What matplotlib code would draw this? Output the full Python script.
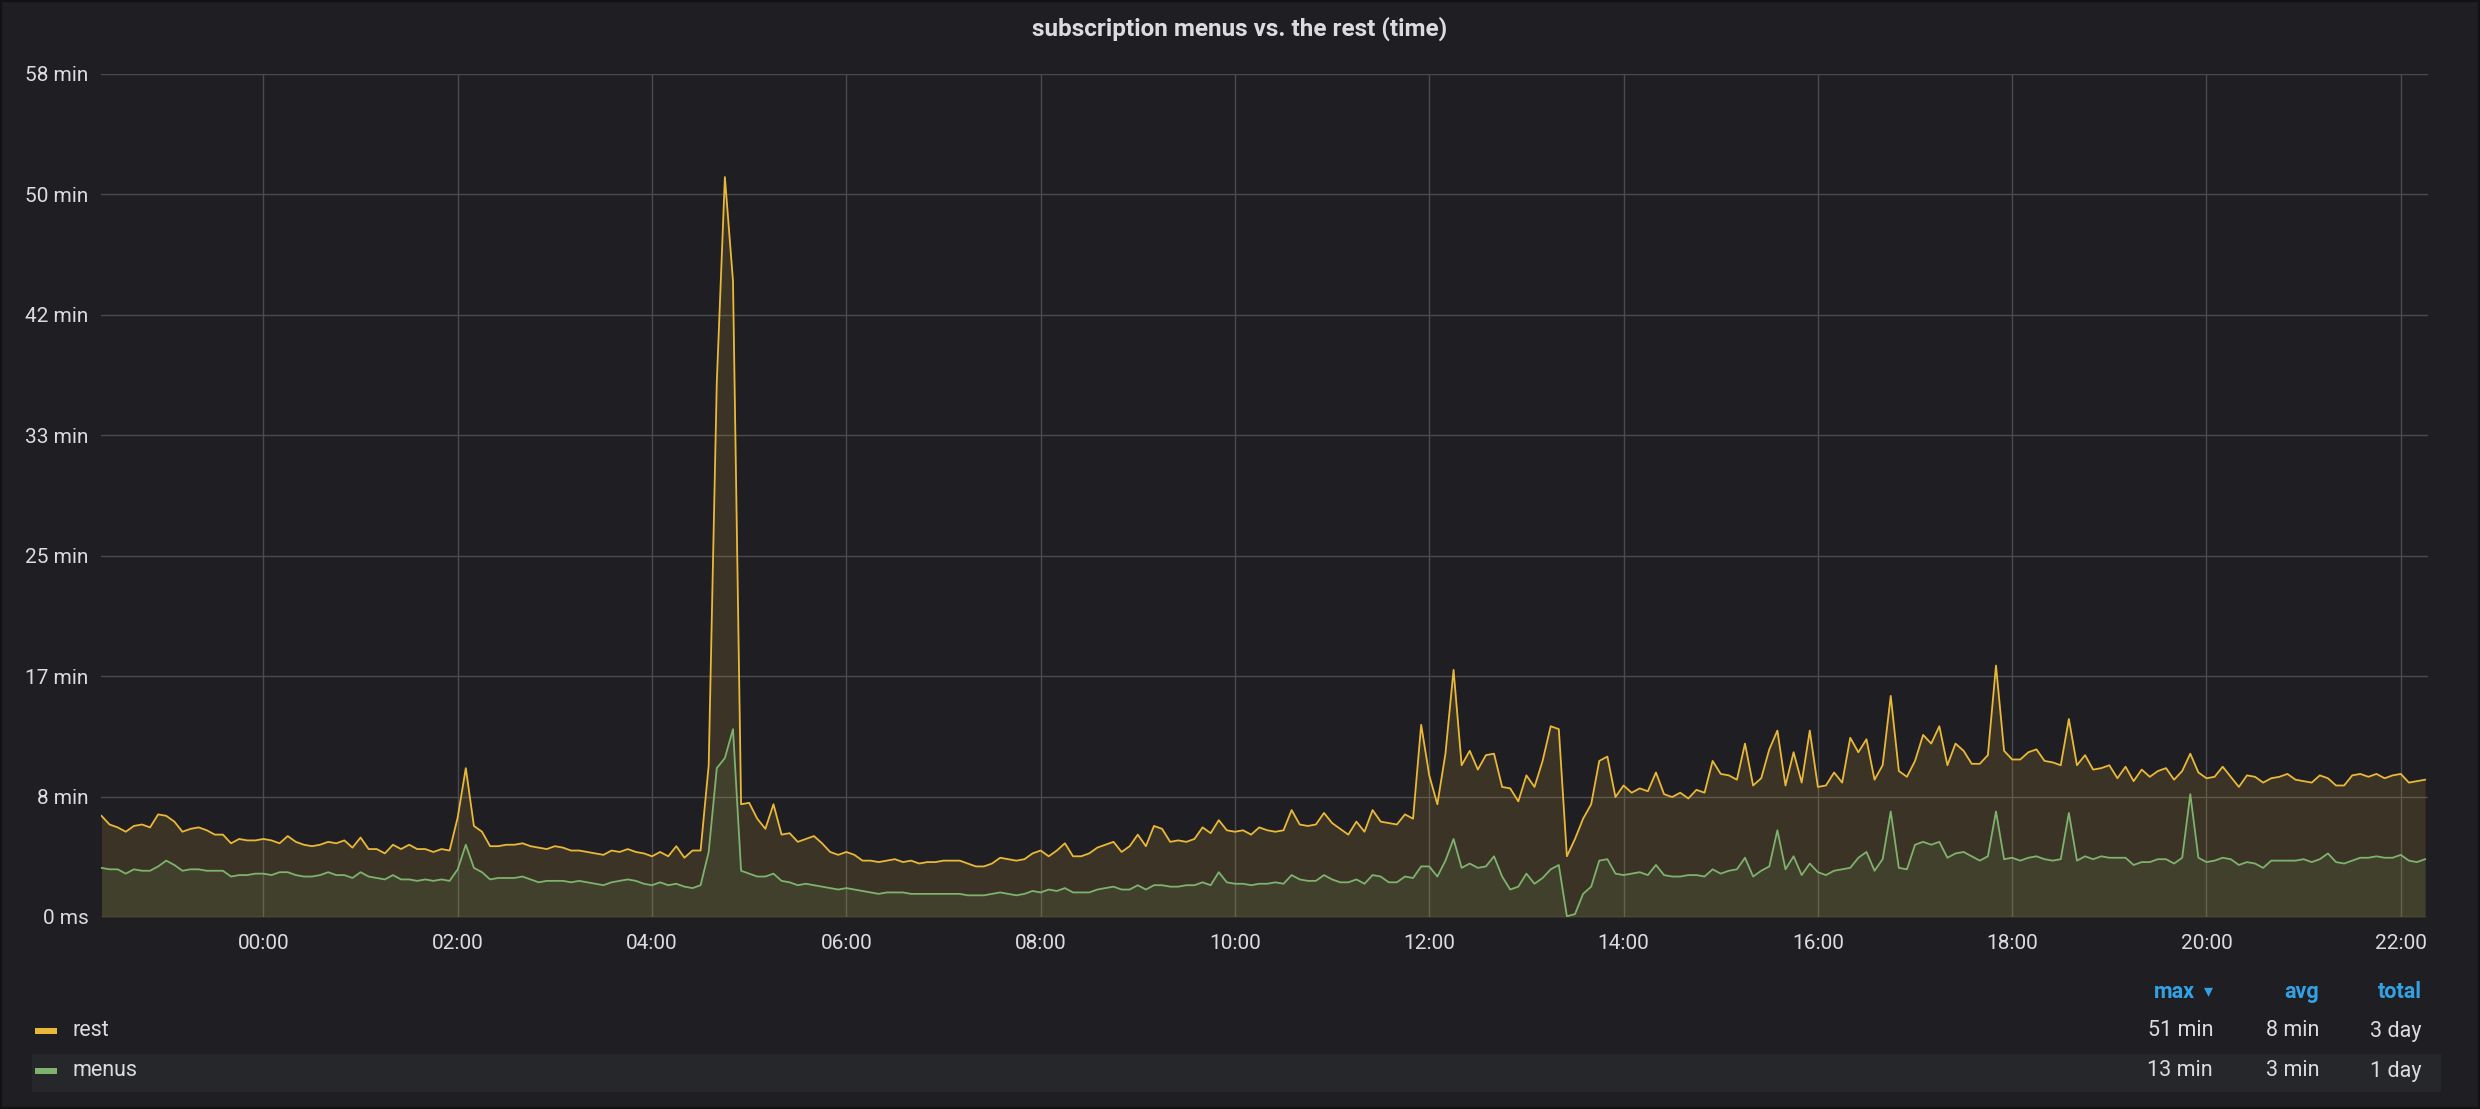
import numpy as np
import matplotlib
matplotlib.use("Agg")
import matplotlib.pyplot as plt
from matplotlib.patches import Rectangle

plt.rcParams['font.family'] = ['Roboto', 'DejaVu Sans']

# ---- data (minutes), 5-minute samples starting 22:20 of the previous day ----
start_min = -100
step_min = 5

rest = [
    7.0, 6.4, 6.2, 5.9, 6.3, 6.4, 6.2, 7.1, 7.0, 6.6, 5.9, 6.1, 6.2, 6.0, 5.7, 5.7, 5.1, 5.4, 5.3, 5.3,
    5.4, 5.3, 5.1, 5.6, 5.2, 5.0, 4.9, 5.0, 5.2, 5.1, 5.3, 4.8, 5.5, 4.7, 4.7, 4.4, 5.0, 4.7, 5.0, 4.7,
    4.7, 4.5, 4.7, 4.6, 6.9, 10.3, 6.3, 5.9, 4.9,
    4.9, 5.0, 5.0, 5.1, 4.9, 4.8, 4.7, 4.9, 4.8, 4.6, 4.6, 4.5, 4.4, 4.3, 4.6, 4.5, 4.7, 4.5, 4.4, 4.2,
    4.5, 4.2, 4.9, 4.1, 4.6, 4.6,
    10.5, 37.0, 51.2, 44.0, 7.8, 7.9, 6.8, 6.1, 7.8, 5.7, 5.8, 5.2, 5.4, 5.6, 5.1, 4.5, 4.3, 4.5, 4.3,
    3.9, 3.9, 3.8, 3.9,
    4.0, 3.8, 3.9, 3.7, 3.8, 3.8, 3.9, 3.9, 3.9, 3.7, 3.5, 3.5, 3.7, 4.1, 4.0, 3.9, 4.0, 4.4, 4.6, 4.2,
    4.6, 5.1, 4.2, 4.2, 4.4, 4.8, 5.0, 5.2, 4.5, 4.9, 5.7, 4.9, 6.3, 6.1, 5.2, 5.3, 5.2, 5.4, 6.2, 5.8,
    6.7, 6.0, 5.9, 6.0, 5.7, 6.2, 6.0, 5.9,
    6.0, 7.4, 6.4, 6.3, 6.4, 7.2, 6.5, 6.1, 5.7, 6.6, 5.9, 7.4, 6.6, 6.5, 6.4, 7.1, 6.8, 13.3, 9.8, 7.8,
    11.3, 17.1, 10.5, 11.5, 10.2, 11.2, 11.3, 9.0, 8.9, 8.0, 9.8, 9.0, 10.8, 13.2, 13.0, 4.2, 5.4, 6.8,
    7.8, 10.8, 11.1, 8.3, 9.1, 8.6, 8.9, 8.7, 10.0, 8.5,
    8.3, 8.6, 8.2, 8.8, 8.6, 10.8, 9.9, 9.8, 9.5, 12.0, 9.1, 9.6, 11.6, 12.9, 9.1, 11.4, 9.3, 12.9, 9.0,
    9.1, 10.0, 9.3, 12.4, 11.4, 12.3, 9.5, 10.5, 15.3, 10.1, 9.7, 10.8, 12.6, 12.0, 13.2, 10.5, 12.0,
    11.5, 10.6, 10.6, 11.2, 17.4, 11.5, 10.9, 10.9, 11.4, 11.6, 10.8, 10.7,
    10.5, 13.7, 10.5, 11.2, 10.2, 10.3, 10.5, 9.6, 10.4, 9.4, 10.2, 9.7, 10.1, 10.3, 9.5, 10.1, 11.3,
    10.0, 9.6, 9.7, 10.4, 9.7, 9.0, 9.8, 9.7, 9.3, 9.6, 9.7, 9.9, 9.5, 9.4, 9.3, 9.8, 9.6, 9.1, 9.1,
    9.8, 9.9, 9.7, 9.9, 9.6, 9.8, 9.9, 9.3, 9.4, 9.5,
]

menus = [
    3.4, 3.3, 3.3, 3.0, 3.3, 3.2, 3.2, 3.5, 3.9, 3.6, 3.2, 3.3, 3.3, 3.2, 3.2, 3.2, 2.8, 2.9, 2.9, 3.0,
    3.0, 2.9, 3.1, 3.1, 2.9, 2.8, 2.8, 2.9, 3.1, 2.9, 2.9, 2.7, 3.1, 2.8, 2.7, 2.6, 2.9, 2.6, 2.6, 2.5,
    2.6, 2.5, 2.6, 2.5, 3.3, 5.0, 3.4, 3.1, 2.6,
    2.7, 2.7, 2.7, 2.8, 2.6, 2.4, 2.5, 2.5, 2.5, 2.4, 2.5, 2.4, 2.3, 2.2, 2.4, 2.5, 2.6, 2.5, 2.3, 2.2,
    2.4, 2.2, 2.3, 2.1, 2.0, 2.2,
    4.5, 10.3, 11.0, 13.0, 3.2, 3.0, 2.8, 2.8, 3.0, 2.5, 2.4, 2.2, 2.3, 2.2, 2.1, 2.0, 1.9, 2.0, 1.9,
    1.8, 1.7, 1.6, 1.7,
    1.7, 1.7, 1.6, 1.6, 1.6, 1.6, 1.6, 1.6, 1.6, 1.5, 1.5, 1.5, 1.6, 1.7, 1.6, 1.5, 1.6, 1.8, 1.7, 1.9,
    1.8, 2.0, 1.7, 1.7, 1.7, 1.9, 2.0, 2.1, 1.9, 1.9, 2.2, 1.9, 2.2, 2.2, 2.1, 2.1, 2.2, 2.2, 2.4, 2.2,
    3.1, 2.4, 2.3, 2.3, 2.2, 2.3, 2.3, 2.4,
    2.3, 2.9, 2.6, 2.5, 2.5, 2.9, 2.6, 2.4, 2.4, 2.6, 2.3, 2.9, 2.8, 2.4, 2.4, 2.8, 2.7, 3.5, 3.5, 2.8,
    3.9, 5.4, 3.4, 3.7, 3.4, 3.5, 4.2, 2.8, 1.9, 2.1, 3.0, 2.3, 2.7, 3.3, 3.6, 0.05, 0.2, 1.6, 2.1,
    3.9, 4.0, 3.0, 2.9, 3.0, 3.1, 2.9, 3.6, 2.9,
    2.8, 2.8, 2.9, 2.9, 2.8, 3.3, 3.0, 3.2, 3.3, 4.1, 2.8, 3.2, 3.5, 6.0, 3.3, 4.2, 2.9, 3.7, 3.1, 2.9,
    3.2, 3.3, 3.4, 4.1, 4.5, 3.2, 4.0, 7.3, 3.4, 3.3, 5.0, 5.2, 5.0, 5.2, 4.1, 4.4, 4.5, 4.2, 3.9, 4.2,
    7.3, 4.0, 4.1, 3.9, 4.1, 4.2, 4.0, 3.9,
    4.0, 7.2, 3.9, 4.2, 4.0, 4.2, 4.1, 4.1, 4.1, 3.6, 3.8, 3.8, 4.0, 4.0, 3.7, 4.1, 8.5, 4.1, 3.8, 3.9,
    4.1, 4.0, 3.6, 3.8, 3.7, 3.4, 3.9, 3.9, 3.9, 3.9, 4.0, 3.8, 4.0, 4.4, 3.8, 3.7, 3.9, 4.1, 4.1, 4.2,
    4.1, 4.1, 4.3, 3.9, 3.8, 4.0,
]

x_ticks_min = [0, 120, 240, 360, 480, 600, 720, 840, 960, 1080, 1200, 1320]
x_tick_labels = ["00:00", "02:00", "04:00", "06:00", "08:00", "10:00",
                 "12:00", "14:00", "16:00", "18:00", "20:00", "22:00"]
y_ticks_sec = [0, 500, 1000, 1500, 2000, 2500, 3000, 3500]
y_tick_labels = ["0 ms", "8 min", "17 min", "25 min", "33 min", "42 min", "50 min", "58 min"]

title = "subscription menus vs. the rest (time)"
series_names = ["rest", "menus"]
series_colors = ["#EAB839", "#7EB26D"]
legend_headers = ["max", "avg", "total"]
legend_max = ["51 min", "13 min"]
legend_avg = ["8 min", "3 min"]
legend_total = ["3 day", "1 day"]

# ---- figure ----
W, H = 2480, 1109
BG = "#1f1f23"
TXT = "#dcdcde"
GRID = "#4a4b4f"

fig = plt.figure(figsize=(W / 100, H / 100), dpi=100, facecolor=BG)
fig.patches.append(Rectangle((0, 0), 1, 1, transform=fig.transFigure,
                             fill=False, edgecolor="#121214", lw=3, zorder=10))

def fx(px):
    return px / W

def fy(py):
    return 1 - py / H

ax = fig.add_axes([fx(101), fy(917), fx(2428) - fx(101), fy(74) - fy(917)])
ax.set_facecolor(BG)

t_rest = start_min + step_min * np.arange(len(rest))
t_menus = start_min + step_min * np.arange(len(menus))
rest_a = np.array(rest)
menus_a = np.array(menus)

ax.fill_between(t_rest, 0, rest_a, color=series_colors[0], alpha=0.14, lw=0, zorder=2)
ax.fill_between(t_menus, 0, menus_a, color=series_colors[1], alpha=0.10, lw=0, zorder=2)
ax.plot(t_rest, rest_a, color=series_colors[0], lw=1.3, zorder=4)
ax.plot(t_menus, menus_a, color=series_colors[1], lw=1.3, zorder=4)

ax.set_xlim(-100.3, 1336.8)
ax.set_ylim(0, 3500 / 60)
ax.set_xticks(x_ticks_min)
ax.set_xticklabels(x_tick_labels)
ax.set_yticks([s / 60 for s in y_ticks_sec])
ax.set_yticklabels(y_tick_labels)
ax.grid(True, color=GRID, lw=1.0, zorder=1)
ax.set_axisbelow(True)
for sp in ax.spines.values():
    sp.set_visible(False)
ax.tick_params(axis="both", length=0, colors=TXT, labelsize=15)
ax.tick_params(axis="y", pad=9)
ax.tick_params(axis="x", pad=12)

# title
fig.text(0.5, fy(29), title, ha="center", va="center", color=TXT,
         fontsize=17.5, fontweight="bold")

# legend table
fig.patches.append(Rectangle((fx(32), fy(1092)), fx(2441) - fx(32), fy(1054) - fy(1092),
                             transform=fig.transFigure, facecolor="#26272b",
                             edgecolor="none", zorder=0))
row_y = [1031, 1071]
for name, col, yy in zip(series_names, series_colors, row_y):
    fig.patches.append(Rectangle((fx(35), fy(yy + 3)), fx(57) - fx(35), fy(yy - 3) - fy(yy + 3),
                                 transform=fig.transFigure, facecolor=col, edgecolor="none"))
    fig.text(fx(72), fy(yy), name, ha="left", va="center", color=TXT, fontsize=15.5)

col_right = [2213, 2319, 2422]
HDR = "#33a2e5"
fig.text(fx(col_right[0] - 18), fy(992), legend_headers[0], ha="right", va="center",
         color=HDR, fontsize=15.5, fontweight="bold")
fig.text(fx(col_right[0]), fy(991), "\u25BE", ha="right", va="center",
         color=HDR, fontsize=13, family=["DejaVu Sans"])
for hdr, xr in zip(legend_headers[1:], col_right[1:]):
    fig.text(fx(xr), fy(992), hdr, ha="right", va="center", color=HDR,
             fontsize=15.5, fontweight="bold")
for i, yy in enumerate(row_y):
    for vals, xr in zip([legend_max, legend_avg, legend_total], col_right):
        fig.text(fx(xr), fy(yy), vals[i], ha="right", va="center", color=TXT, fontsize=15.5)

fig.savefig("out.png", dpi=100, facecolor=BG)
